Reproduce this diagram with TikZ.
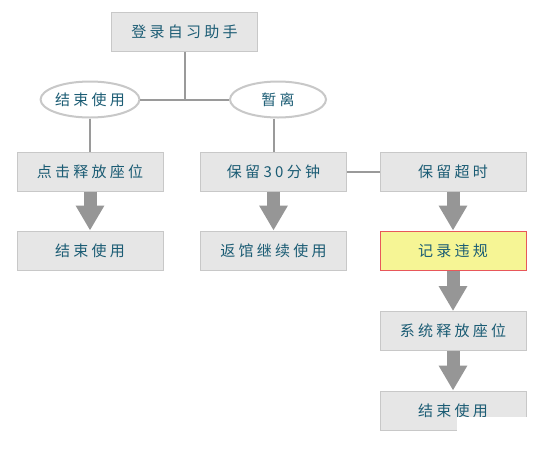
\documentclass[tikz,border=0pt]{standalone}
\usepackage{fontspec}
\newfontfamily\cjk[LetterSpace=22]{Noto Sans CJK SC}
\usetikzlibrary{arrows.meta,shapes.geometric}
\definecolor{boxfill}{HTML}{E6E6E6}
\definecolor{boxline}{HTML}{C8C8C8}
\definecolor{txt}{HTML}{1B5C74}
\definecolor{conn}{HTML}{9A9A9A}
\definecolor{arrowc}{HTML}{969696}
\definecolor{yel}{HTML}{F6F595}
\definecolor{redl}{HTML}{E8575A}
\begin{document}
\begin{tikzpicture}[x=1pt,y=-1pt,
  stepbox/.style={draw=boxline,fill=boxfill,line width=1pt,minimum width=146pt,minimum height=39pt,inner sep=0pt,text=txt,font=\cjk\fontsize{15}{17}\selectfont},
  oval/.style={ellipse,draw=boxline,fill=white,line width=2pt,minimum width=96pt,minimum height=36pt,inner sep=0pt,text=txt,font=\cjk\fontsize{15}{17}\selectfont},
  link/.style={draw=conn,line width=2pt},
  bigarrow/.style={draw=arrowc,line width=13pt,-{Triangle[width=27pt,length=25pt]}}]
\useasboundingbox (0,0) rectangle (537,448);
\fill[white] (0,0) rectangle (537,448);
\node[stepbox] (top) at (184.5,31.5) {登录自习助手};
\node[oval] (e1) at (90,99.5) {结束使用};
\node[oval] (e2) at (278,99.5) {暂离};
\node[stepbox] (b1) at (90,171.5) {点击释放座位};
\node[stepbox] (b2) at (273.5,171.5) {保留30分钟};
\node[stepbox] (b3) at (453,171.5) {保留超时};
\node[stepbox] (c1) at (90,250.5) {结束使用};
\node[stepbox] (c2) at (273.5,250.5) {返馆继续使用};
\node[stepbox,fill=yel,draw=redl] (c3) at (453,250.5) {记录违规};
\node[stepbox] (d3) at (453,331) {系统释放座位};
\node[stepbox] (f3) at (453,410.5) {结束使用};
% connectors
\draw[link] (e1.east) -- (e2.west);
\draw[link] (top.south) -- (top.south |- e1.east);
\draw[link] (e1.south) -- (b1.north);
\draw[link] (b2.north |- e2.south) -- (b2.north);
\draw[link] (b2.east) -- (b3.west);
\draw[bigarrow] (b1.south) -- (c1.north);
\draw[bigarrow] (b2.south) -- (c2.north);
\draw[bigarrow] (b3.south) -- (c3.north);
\draw[bigarrow] (c3.south) -- (d3.north);
\draw[bigarrow] (d3.south) -- (f3.north);
\fill[white] (457,417) rectangle (537,448);
\end{tikzpicture}
\end{document}
